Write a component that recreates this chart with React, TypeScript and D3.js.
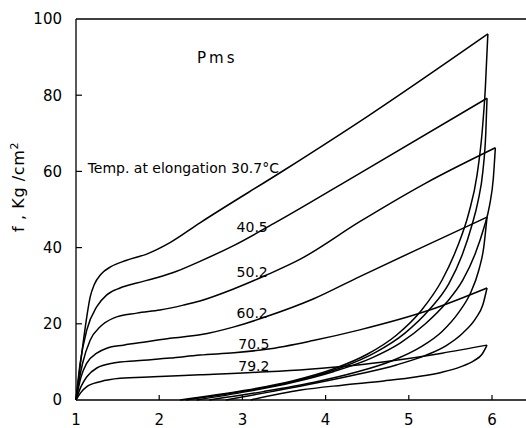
import React from "react";
import * as d3 from "d3";

type P = [number, number];

const temperatures = ["30.7", "40.5", "50.2", "60.2", "70.5", "79.2"];
const xTicks = [1, 2, 3, 4, 5, 6];
const yTicks = [0, 20, 40, 60, 80, 100];

const load307: P[] = [[1,0],[1.05,9],[1.09,15.7],[1.13,21.9],[1.17,27],[1.22,30.3],[1.3,33],[1.42,35],[1.6,36.6],[1.85,38.3],[2.13,41.3],[2.49,46.5],[3.5,60.3],[4.5,74.4],[5.95,96.1]];
const load405: P[] = [[1,0],[1.05,9.7],[1.13,18.4],[1.25,24.5],[1.37,27.6],[1.53,29.4],[1.73,30.7],[1.97,32.1],[2.21,33.8],[2.49,36.4],[2.9,40.6],[3.4,46.6],[4.41,59.5],[5.94,79.2]];
const load502: P[] = [[1,0],[1.04,5.5],[1.08,9.7],[1.17,15.7],[1.29,19.2],[1.45,21.5],[1.73,22.8],[2.01,23.6],[2.29,24.9],[2.49,26],[2.9,29.2],[3.29,32.8],[3.69,36.9],[4.41,46.8],[5.21,57],[6.04,66.2]];
const load602: P[] = [[1,0],[1.06,6],[1.13,9.7],[1.25,12.3],[1.37,13.6],[1.57,14.4],[1.85,15.3],[2.13,16.2],[2.49,17.1],[2.9,19.2],[3.29,21.9],[3.85,26.5],[4.41,32.4],[5.21,40.6],[5.94,48]];
const load705: P[] = [[1,0],[1.06,3.5],[1.13,6.1],[1.25,8.4],[1.45,9.7],[1.73,10.3],[2.13,11],[2.49,11.8],[2.9,12.4],[3.29,13.3],[3.85,15.6],[4.41,18.4],[5.25,23.6],[5.94,29.4]];
const load792: P[] = [[1,0],[1.06,2],[1.13,3.5],[1.29,4.8],[1.53,5.7],[1.93,6.1],[2.49,6.6],[3.29,7.4],[3.8,8.1],[4.3,9.0],[4.8,10.3],[5.4,12.3],[5.94,14.4]];

const unload307: P[] = [[5.95,96.1],[5.92,82],[5.88,70],[5.82,59],[5.72,49],[5.58,40],[5.40,31.5],[5.15,23.5],[4.85,17],[4.5,12],[4.1,8.2],[3.6,5],[3.0,2.4],[2.25,0]];
const unload405: P[] = [[5.94,79.2],[5.925,70],[5.89,60],[5.83,52],[5.76,46],[5.64,38],[5.48,30.5],[5.25,23.8],[4.95,17.5],[4.6,12.5],[4.2,8.6],[3.7,5.3],[3.1,2.6],[2.32,0]];
const unload502: P[] = [[6.04,66.2],[6.015,58],[5.97,51],[5.9,45],[5.8,38.5],[5.65,31.5],[5.45,25.5],[5.2,20],[4.9,15],[4.55,11],[4.1,7.5],[3.6,4.6],[3.05,2.2],[2.45,0]];
const unload602: P[] = [[5.94,48],[5.9,40],[5.84,34],[5.74,28],[5.6,23],[5.4,18],[5.15,14],[4.8,10.3],[4.35,7.2],[3.85,4.6],[3.25,2.2],[2.6,0]];
const unload705: P[] = [[5.94,29.4],[5.89,25],[5.8,21.3],[5.65,17.6],[5.45,14.3],[5.2,11.7],[4.85,9.2],[4.4,6.8],[3.9,4.5],[3.35,2.2],[2.8,0]];
const unload792: P[] = [[5.94,14.4],[5.88,12],[5.78,10.3],[5.62,8.7],[5.4,7.3],[5.1,6.1],[4.7,5.0],[4.2,3.9],[3.7,2.6],[3.1,0]];

const loadingCurves = [load307, load405, load502, load602, load705, load792];
const unloadingCurves = [unload307, unload405, unload502, unload602, unload705, unload792];

// label anchor positions in data units (x, f)
const labelX = [1.14, 2.93, 2.93, 2.93, 2.95, 2.95];
const labelY = [59.5, 44.2, 32.4, 21.5, 13.4, 7.7];

export default function App() {
  const W = 526, H = 428;
  const x = d3.scaleLinear().domain([1, 6.4]).range([76, 525.3]);
  const y = d3.scaleLinear().domain([0, 100]).range([400, 19]);
  const line = d3
    .line<P>()
    .x((d) => x(d[0]))
    .y((d) => y(d[1]))
    .curve(d3.curveMonotoneX);
  const sorted = (pts: P[]) => [...pts].sort((a, b) => a[0] - b[0]);
  const font = "DejaVu Sans, sans-serif";

  return (
    <svg
      width={W}
      height={H}
      style={{ position: "fixed", left: 0, top: 0, background: "#fff" }}
      fontFamily={font}
    >
      <rect width={W} height={H} fill="#fff" />
      {/* frame */}
      <line x1={x(1)} x2={W} y1={y(100)} y2={y(100)} stroke="#000" strokeWidth={1.3} />
      <line x1={x(1)} x2={W} y1={y(0)} y2={y(0)} stroke="#000" strokeWidth={1.3} />
      <line x1={x(1)} x2={x(1)} y1={y(100)} y2={y(0)} stroke="#000" strokeWidth={1.3} />
      {yTicks.filter((t) => t > 0 && t < 100).map((t) => (
        <line key={"yt" + t} x1={x(1)} x2={x(1) + 6} y1={y(t)} y2={y(t)} stroke="#000" strokeWidth={1.2} />
      ))}
      {xTicks.filter((t) => t > 1).map((t) => (
        <line key={"xt" + t} x1={x(t)} x2={x(t)} y1={y(0)} y2={y(0) - 5} stroke="#000" strokeWidth={1.2} />
      ))}
      {yTicks.map((t) => (
        <text key={"yl" + t} x={62} y={y(t)} dy="0.36em" textAnchor="end" fontSize={15}>
          {t}
        </text>
      ))}
      {xTicks.map((t) => (
        <text key={"xl" + t} x={x(t)} y={425} textAnchor="middle" fontSize={15}>
          {t}
        </text>
      ))}
      <text
        transform={`translate(24, 187) rotate(-90)`}
        textAnchor="middle"
        fontSize={16}
        letterSpacing={0.6}
      >
        f , Kg /cm<tspan dy="-6" fontSize={11}>2</tspan>
      </text>
      <text x={197} y={63} fontSize={15} letterSpacing={3}>Pms</text>

      {loadingCurves.map((c, i) => (
        <path key={"l" + i} d={line(sorted(c)) || ""} fill="none" stroke="#000" strokeWidth={1.5} strokeLinejoin="round" />
      ))}
      {unloadingCurves.map((c, i) => (
        <path key={"u" + i} d={line(sorted(c)) || ""} fill="none" stroke="#000" strokeWidth={1.5} strokeLinejoin="round" />
      ))}

      {temperatures.map((t, i) => (
        <text key={"lab" + t} x={x(labelX[i])} y={y(labelY[i])} fontSize={14} fill="#000">
          {i === 0 ? `Temp. at elongation ${t}°C` : t}
        </text>
      ))}
    </svg>
  );
}
